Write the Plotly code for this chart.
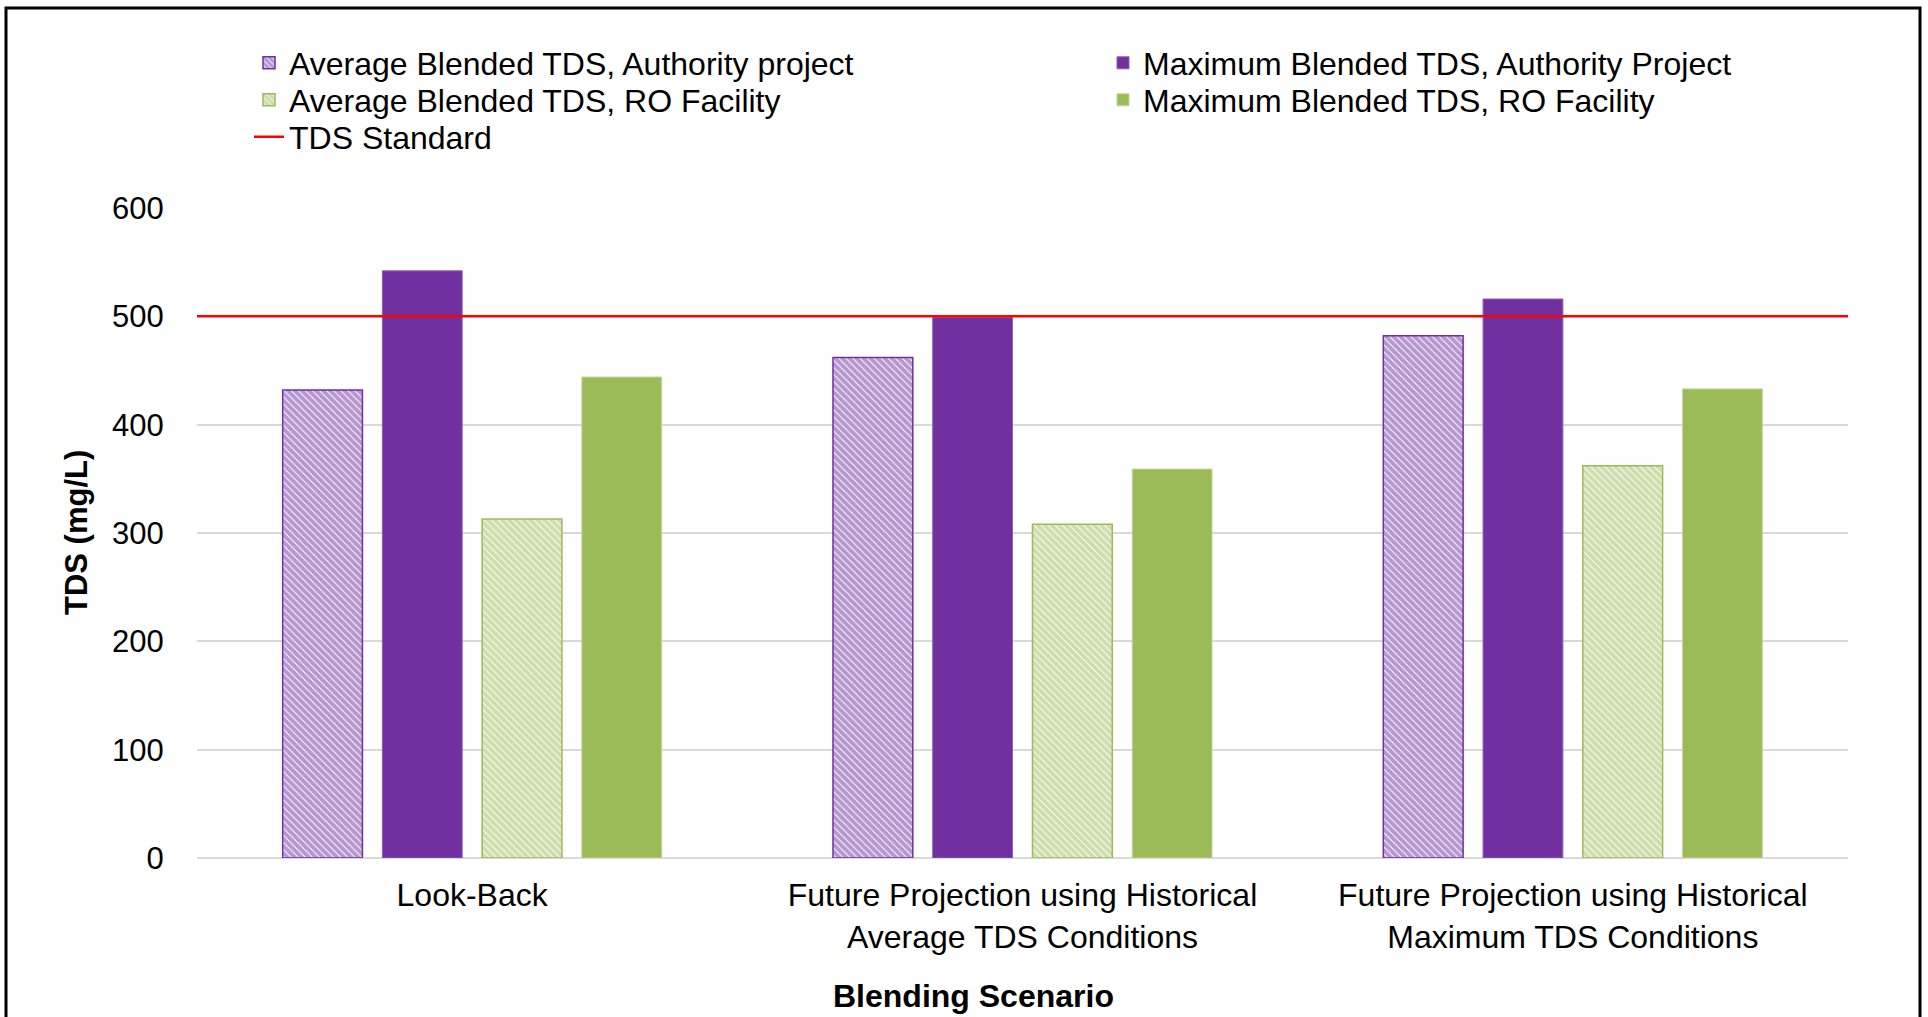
import plotly.graph_objects as go

# Blending scenarios (x categories)
scenarios = [
    "Look-Back",
    "Future Projection using Historical<br>Average TDS Conditions",
    "Future Projection using Historical<br>Maximum TDS Conditions",
]

# Blended TDS results (mg/L)
avg_authority = [432, 462, 482]
max_authority = [542, 499, 516]
avg_ro = [313, 308, 362]
max_ro = [444, 359, 433]

# Regulatory TDS standard (mg/L)
tds_standard = 500
standard_span = [0, 1]

y_ticks = [0, 100, 200, 300, 400, 500, 600]

PURPLE = "#7030A0"
GREEN = "#9BBB59"
RED = "#FF0000"
FONT = "Liberation Sans, Arial, sans-serif"
FS = 31

W, H = 1928, 1017
L, R, T, B = 197, 80, 208, 159
PW, PH = W - L - R, H - T - B

HATCH = dict(shape="\\", bgcolor="white", size=5, solidity=0.8,
             fillmode="overlay")

fig = go.Figure()

fig.add_trace(go.Bar(
    name="Average Blended TDS, Authority project",
    x=scenarios, y=avg_authority,
    marker=dict(color="white", line=dict(color=PURPLE, width=1.5),
                pattern=dict(HATCH, fgcolor=PURPLE)),
    legend="legend",
))
fig.add_trace(go.Bar(
    name="Maximum Blended TDS, Authority Project",
    x=scenarios, y=max_authority,
    marker=dict(color=PURPLE, line=dict(color="#8E5CB8", width=1)),
    legend="legend2",
))
fig.add_trace(go.Bar(
    name="Average Blended TDS, RO Facility",
    x=scenarios, y=avg_ro,
    marker=dict(color="white", line=dict(color=GREEN, width=1.5),
                pattern=dict(HATCH, fgcolor=GREEN)),
    legend="legend3",
))
fig.add_trace(go.Bar(
    name="Maximum Blended TDS, RO Facility",
    x=scenarios, y=max_ro,
    marker=dict(color=GREEN, line=dict(color="#C3D69B", width=1)),
    legend="legend4",
))
fig.add_trace(go.Scatter(
    name="TDS Standard",
    x=standard_span, y=[tds_standard] * len(standard_span),
    mode="lines", line=dict(color=RED, width=2.5),
    xaxis="x2", legend="legend5",
))

def legend_at(px, py):
    return dict(
        x=px / W, y=1 - py / H, xref="container", yref="container",
        xanchor="left", yanchor="middle",
        font=dict(family=FONT, size=32, color="black"),
        bgcolor="rgba(0,0,0,0)", borderwidth=0, itemwidth=30,
        tracegroupgap=0,
    )

col1, col2 = 249, 1103
rows = [63, 100, 137]

fig.update_layout(
    width=W, height=H,
    margin=dict(l=L, r=R, t=T, b=B, autoexpand=False),
    paper_bgcolor="white", plot_bgcolor="white",
    font=dict(family=FONT, size=FS, color="black"),
    barmode="group", bargap=0.275, bargroupgap=0.2,
    showlegend=True,
    legend=legend_at(col1, rows[0]),
    legend2=legend_at(col2, rows[0]),
    legend3=legend_at(col1, rows[1]),
    legend4=legend_at(col2, rows[1]),
    legend5=legend_at(col1, rows[2]),
    xaxis=dict(
        type="category", showgrid=False, showline=False, zeroline=False,
        ticks="outside", ticklen=9, tickcolor="rgba(0,0,0,0)", tickangle=0,
        tickfont=dict(family=FONT, size=32, color="black"),
    ),
    xaxis2=dict(overlaying="x", range=standard_span, visible=False,
                fixedrange=True),
    yaxis=dict(
        range=[0, 600], tickvals=y_ticks, showgrid=True,
        gridcolor="#D9D9D9", gridwidth=2, zeroline=True,
        zerolinecolor="#D9D9D9", zerolinewidth=2, showline=False,
        ticks="outside", ticklen=26, tickcolor="rgba(0,0,0,0)",
        tickfont=dict(family=FONT, size=FS, color="black"),
    ),
    annotations=[
        dict(text="<b>Blending Scenario</b>", xref="paper", yref="paper",
             x=(973 - L) / PW, y=(H - B - 996) / PH,
             xanchor="center", yanchor="middle", showarrow=False,
             font=dict(family=FONT, size=32, color="black")),
        dict(text="<b>TDS (mg/L)</b>", xref="paper", yref="paper",
             x=(76 - L) / PW, y=0.5, textangle=-90,
             xanchor="center", yanchor="middle", showarrow=False,
             font=dict(family=FONT, size=FS, color="black")),
    ],
    shapes=[dict(
        type="rect", xref="paper", yref="paper",
        x0=(6 - L) / PW, x1=(1920 - L) / PW,
        y0=(H - B - 1040) / PH, y1=(H - B - 8) / PH,
        line=dict(color="black", width=3), fillcolor="rgba(0,0,0,0)",
        layer="below",
    )],
)

fig.write_html("out.html")
